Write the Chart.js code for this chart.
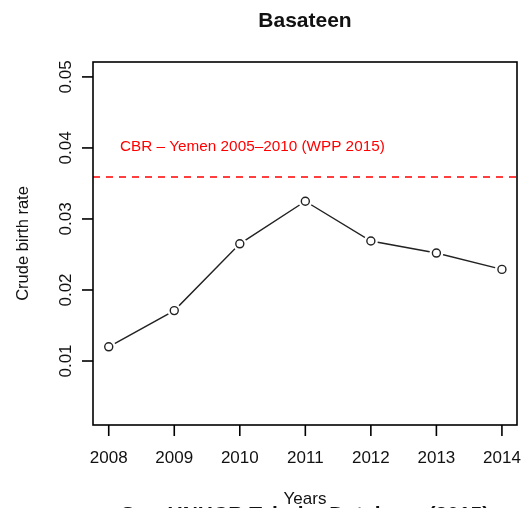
<!DOCTYPE html>
<html>
<head>
<meta charset="utf-8">
<script src="https://cdn.jsdelivr.net/npm/chart.js@4/dist/chart.umd.min.js"></script>
<style>
html,body{margin:0;padding:0;background:#fff;}
#wrap{width:521px;height:508px;position:relative;}
</style>
</head>
<body>
<div id="wrap"><canvas id="c" width="521" height="508"></canvas></div>
<script>
// ---- data ----
const years = [2008, 2009, 2010, 2011, 2012, 2013, 2014];
const cbr = [0.0120, 0.0171, 0.0265, 0.0325, 0.0269, 0.0252, 0.0229];
const yTicks = [0.01, 0.02, 0.03, 0.04, 0.05];
const yTickLabels = ['0.01', '0.02', '0.03', '0.04', '0.05'];
const xTickLabels = ['2008', '2009', '2010', '2011', '2012', '2013', '2014'];
const refValue = 0.0359;
const refLabel = 'CBR \u2013 Yemen 2005\u20132010 (WPP 2015)';
const titleText = 'Basateen';
const xTitle = 'Years';
const yTitle = 'Crude birth rate';
const sourceText = 'Src: UNHCR Tabular Database (2015)';

const pts = years.map((y, i) => ({x: y, y: cbr[i]}));
const FONT = '"Liberation Sans", Arial, Helvetica, sans-serif';

const rPlot = {
  id: 'rplot',
  afterDatasetsDraw(chart) {
    const ctx = chart.ctx;
    const xs = chart.scales.x, ys = chart.scales.y;
    const a = chart.chartArea;
    ctx.save();
    // reference dashed line
    const ry = ys.getPixelForValue(refValue);
    ctx.strokeStyle = '#ff0000';
    ctx.lineWidth = 1.5;
    ctx.setLineDash([7, 6]);
    ctx.beginPath();
    ctx.moveTo(a.left, ry);
    ctx.lineTo(a.right, ry);
    ctx.stroke();
    ctx.setLineDash([]);
    // ref label
    ctx.fillStyle = '#ff0000';
    ctx.font = '15.3px ' + FONT;
    ctx.textAlign = 'left';
    ctx.textBaseline = 'alphabetic';
    ctx.fillText(refLabel, 120, 151);
    // box
    ctx.strokeStyle = '#000';
    ctx.lineWidth = 1.6;
    ctx.strokeRect(a.left, a.top, a.right - a.left, a.bottom - a.top);
    // x ticks
    ctx.fillStyle = '#111';
    ctx.font = '17px ' + FONT;
    ctx.textAlign = 'center';
    years.forEach((yr, i) => {
      const px = xs.getPixelForValue(yr);
      ctx.beginPath();
      ctx.moveTo(px, a.bottom);
      ctx.lineTo(px, a.bottom + 11);
      ctx.stroke();
      ctx.fillText(xTickLabels[i], px, 463);
    });
    // y ticks
    yTicks.forEach((v, i) => {
      const py = ys.getPixelForValue(v);
      ctx.beginPath();
      ctx.moveTo(a.left, py);
      ctx.lineTo(a.left - 11, py);
      ctx.stroke();
      ctx.save();
      ctx.translate(70.5, py);
      ctx.rotate(-Math.PI / 2);
      ctx.textAlign = 'center';
      ctx.fillText(yTickLabels[i], 0, 0);
      ctx.restore();
    });
    // axis titles
    ctx.font = '16.5px ' + FONT;
    ctx.save();
    ctx.translate(28, (a.top + a.bottom) / 2);
    ctx.rotate(-Math.PI / 2);
    ctx.textAlign = 'center';
    ctx.fillText(yTitle, 0, 0);
    ctx.restore();
    ctx.font = '17px ' + FONT;
    ctx.textAlign = 'center';
    ctx.fillText(xTitle, (a.left + a.right) / 2, 504);
    // title
    ctx.font = 'bold 21px ' + FONT;
    ctx.fillText(titleText, (a.left + a.right) / 2, 27);
    // source (clipped at bottom)
    ctx.font = 'bold 21px ' + FONT;
    ctx.fillText(sourceText, 305, 521, 376);
    ctx.restore();
  }
};

new Chart(document.getElementById('c'), {
  type: 'scatter',
  data: {
    datasets: [
      {
        data: pts, showLine: true, borderColor: '#222', borderWidth: 1.4,
        pointRadius: 0, order: 3
      },
      {
        data: pts, showLine: false, pointRadius: 7, pointBackgroundColor: '#fff',
        pointBorderColor: '#fff', pointBorderWidth: 0, order: 2
      },
      {
        data: pts, showLine: false, pointRadius: 4, pointBackgroundColor: '#fff',
        pointBorderColor: '#222', pointBorderWidth: 1.4, order: 1
      }
    ]
  },
  options: {
    responsive: false,
    animation: false,
    layout: {autoPadding: false, padding: {left: 93, top: 62, right: 4, bottom: 83}},
    plugins: {legend: {display: false}, tooltip: {enabled: false}},
    scales: {
      x: {type: 'linear', display: false, min: 2007.76, max: 2014.23},
      y: {type: 'linear', display: false, min: 0.00099, max: 0.0521}
    }
  },
  plugins: [rPlot]
});
</script>
</body>
</html>
